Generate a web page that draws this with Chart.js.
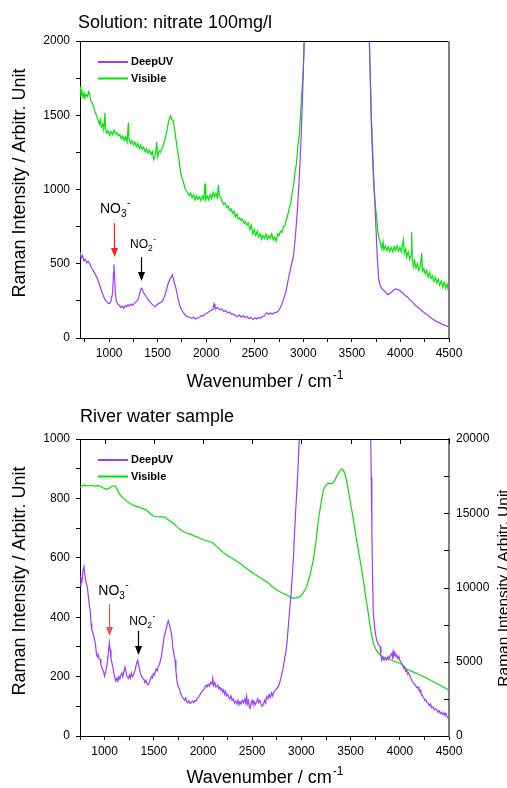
<!DOCTYPE html>
<html>
<head>
<meta charset="utf-8">
<script src="https://cdn.jsdelivr.net/npm/chart.js@4.4.1/dist/chart.umd.min.js"></script>
<style>
  body { margin: 0; background: #fff; }
  canvas { display: block; }
</style>
</head>
<body>
<canvas id="topChart" width="507" height="394"></canvas>
<canvas id="riverChart" width="507" height="394"></canvas>
<script>
// ---- data (wavenumber cm-1, intensity) ----
var seriesNames = ['DeepUV', 'Visible'];

var topDeepUV = [[700,580],[712,540],[725,555],[740,520],[755,530],[770,505],[785,515],[800,500],[820,470],[840,450],[860,425],[880,400],[900,360],[920,320],[940,285],[960,255],[975,245],[990,235],[1005,232],[1020,250],[1035,300],[1045,440],[1050,495],[1056,420],[1064,300],[1075,245],[1090,228],[1105,220],[1120,205],[1135,215],[1150,200],[1165,218],[1180,210],[1195,225],[1210,215],[1225,228],[1240,220],[1255,230],[1270,238],[1285,250],[1300,262],[1315,300],[1330,335],[1340,330],[1355,305],[1370,290],[1385,278],[1400,260],[1420,245],[1440,228],[1460,218],[1475,210],[1490,222],[1505,230],[1520,235],[1535,240],[1550,250],[1565,270],[1580,300],[1595,335],[1610,370],[1625,395],[1640,410],[1651,425],[1662,400],[1675,365],[1690,330],[1705,280],[1720,235],[1735,205],[1750,185],[1770,165],[1790,150],[1810,142],[1830,140],[1850,132],[1870,140],[1890,128],[1910,135],[1930,140],[1950,150],[1970,148],[1990,162],[2010,168],[2030,178],[2050,185],[2070,195],[2080,230],[2090,205],[2105,198],[2120,205],[2140,190],[2160,195],[2180,178],[2200,185],[2220,170],[2240,175],[2260,160],[2280,162],[2300,150],[2320,145],[2340,155],[2360,140],[2380,150],[2400,138],[2420,145],[2440,132],[2460,140],[2480,125],[2500,135],[2520,128],[2540,138],[2560,132],[2580,145],[2600,150],[2620,170],[2640,160],[2660,168],[2680,160],[2700,170],[2720,172],[2740,180],[2760,200],[2780,230],[2800,270],[2820,310],[2840,380],[2860,440],[2880,500],[2900,560],[2920,700],[2940,870],[2960,1100],[2980,1400],[3000,1800],[3020,2300],[3060,3200],[3150,5000],[3300,7000],[3400,7500],[3500,6500],[3600,4000],[3650,2800],[3680,2000],[3700,1450],[3720,1100],[3740,860],[3760,560],[3775,400],[3790,355],[3810,330],[3830,320],[3850,305],[3870,292],[3890,300],[3910,310],[3930,322],[3950,330],[3970,328],[3990,322],[4010,310],[4030,300],[4050,285],[4070,278],[4090,262],[4110,250],[4130,238],[4150,222],[4170,212],[4190,200],[4210,190],[4230,178],[4250,168],[4270,158],[4290,150],[4310,138],[4330,128],[4350,120],[4370,112],[4390,105],[4410,100],[4430,92],[4450,88],[4470,82],[4490,78],[4500,76]];

var topVisible = [[700,1693],[710,1640],[720,1660],[730,1620],[740,1650],[750,1615],[760,1640],[775,1625],[790,1660],[800,1640],[810,1600],[825,1580],[840,1560],[855,1520],[870,1500],[885,1470],[900,1440],[910,1470],[920,1420],[935,1440],[945,1400],[957,1515],[962,1420],[975,1380],[990,1395],[1005,1365],[1020,1390],[1035,1370],[1050,1400],[1065,1375],[1080,1385],[1095,1360],[1110,1370],[1125,1340],[1140,1360],[1155,1330],[1170,1355],[1185,1320],[1198,1450],[1205,1340],[1220,1310],[1235,1330],[1250,1300],[1265,1320],[1280,1290],[1295,1310],[1310,1275],[1325,1300],[1340,1270],[1355,1285],[1370,1255],[1385,1275],[1400,1245],[1415,1265],[1430,1235],[1445,1255],[1460,1200],[1475,1230],[1490,1320],[1500,1220],[1515,1260],[1530,1250],[1545,1280],[1560,1300],[1575,1340],[1590,1380],[1605,1430],[1620,1480],[1634,1495],[1645,1470],[1660,1465],[1675,1400],[1690,1330],[1705,1260],[1720,1200],[1735,1120],[1750,1080],[1765,1050],[1780,1010],[1795,990],[1810,975],[1825,960],[1840,975],[1855,945],[1870,965],[1885,930],[1900,960],[1915,935],[1930,950],[1945,925],[1960,955],[1975,935],[1988,1040],[1995,930],[2010,955],[2025,930],[2040,965],[2055,940],[2070,980],[2085,950],[2100,975],[2115,945],[2125,1030],[2135,960],[2150,940],[2165,920],[2180,900],[2195,910],[2210,880],[2225,890],[2240,860],[2255,870],[2270,840],[2285,855],[2300,815],[2315,835],[2330,800],[2345,810],[2360,790],[2375,800],[2390,770],[2405,785],[2420,760],[2435,775],[2450,730],[2465,760],[2480,700],[2495,730],[2510,690],[2525,720],[2540,680],[2555,700],[2570,665],[2585,690],[2600,670],[2615,700],[2630,665],[2645,690],[2660,670],[2675,700],[2690,660],[2705,680],[2720,650],[2735,700],[2750,690],[2765,720],[2780,710],[2795,750],[2810,760],[2825,800],[2840,830],[2855,880],[2870,900],[2885,980],[2900,1030],[2915,1120],[2930,1180],[2945,1300],[2960,1380],[2975,1550],[2990,1700],[3005,1900],[3020,2200],[3100,3500],[3200,6000],[3400,8000],[3550,6000],[3640,3000],[3680,2000],[3700,1500],[3714,1266],[3730,1000],[3745,870],[3755,817],[3770,700],[3785,660],[3800,620],[3810,600],[3820,650],[3830,595],[3845,620],[3860,590],[3875,615],[3890,585],[3905,610],[3920,580],[3935,615],[3950,590],[3965,620],[3980,585],[3995,610],[4010,580],[4029,660],[4040,570],[4055,600],[4064,545],[4080,580],[4095,530],[4110,560],[4116,716],[4122,540],[4133,480],[4145,520],[4160,470],[4175,500],[4190,455],[4205,485],[4219,570],[4226,450],[4240,470],[4255,430],[4270,455],[4285,410],[4300,440],[4315,400],[4330,420],[4345,380],[4360,410],[4375,370],[4390,395],[4405,355],[4420,385],[4435,345],[4450,375],[4465,335],[4480,365],[4490,330],[4500,360]];

var riverDeepUV = [[750,508],[760,530],[770,520],[780,555],[790,570],[800,540],[812,515],[824,503],[835,470],[845,440],[855,420],[862,380],[870,357],[880,350],[890,335],[900,323],[910,300],[918,275],[926,267],[935,275],[945,260],[955,258],[962,240],[970,233],[980,225],[990,215],[1000,202],[1010,215],[1020,230],[1030,255],[1040,290],[1048,314],[1056,290],[1065,260],[1075,245],[1085,230],[1095,210],[1105,195],[1115,185],[1125,195],[1135,185],[1145,200],[1155,192],[1165,205],[1175,212],[1185,200],[1195,215],[1207,232],[1218,215],[1228,200],[1241,194],[1252,205],[1262,195],[1272,212],[1282,200],[1292,205],[1302,215],[1312,225],[1322,240],[1330,250],[1336,258],[1345,240],[1355,225],[1365,210],[1377,200],[1388,195],[1400,190],[1410,180],[1420,188],[1432,175],[1444,172],[1455,180],[1465,190],[1475,200],[1485,195],[1495,210],[1505,205],[1515,215],[1525,225],[1535,220],[1545,235],[1555,240],[1565,250],[1580,275],[1595,310],[1605,335],[1614,346],[1625,360],[1635,375],[1647,388],[1658,375],[1670,360],[1682,340],[1692,300],[1702,280],[1716,256],[1725,220],[1735,185],[1749,166],[1760,160],[1770,145],[1780,140],[1790,130],[1800,127],[1812,120],[1825,128],[1835,115],[1845,112],[1855,118],[1868,110],[1880,112],[1892,118],[1905,112],[1918,120],[1930,118],[1942,128],[1955,130],[1968,138],[1980,145],[1992,150],[2004,155],[2015,160],[2028,170],[2040,165],[2052,175],[2065,168],[2078,180],[2090,175],[2099,194],[2108,170],[2120,180],[2130,165],[2139,166],[2150,172],[2160,160],[2170,165],[2180,155],[2190,160],[2200,148],[2210,155],[2220,140],[2230,150],[2240,135],[2252,140],[2265,128],[2274,127],[2285,135],[2295,120],[2308,125],[2320,112],[2332,118],[2345,108],[2355,120],[2365,105],[2376,116],[2388,108],[2400,120],[2412,112],[2425,125],[2435,110],[2444,133],[2452,108],[2462,118],[2470,100],[2478,93],[2488,110],[2498,120],[2508,108],[2520,115],[2530,105],[2546,116],[2556,125],[2566,112],[2578,120],[2590,108],[2600,100],[2613,105],[2625,120],[2636,110],[2647,133],[2660,125],[2672,140],[2685,130],[2697,145],[2708,135],[2715,144],[2728,150],[2740,155],[2750,160],[2766,166],[2780,180],[2795,200],[2805,215],[2817,233],[2830,262],[2840,280],[2850,301],[2860,340],[2872,390],[2884,435],[2895,480],[2905,530],[2918,593],[2930,680],[2942,760],[2952,817],[2965,900],[2978,1000],[3000,1250],[3100,2500],[3300,4000],[3500,3500],[3650,2000],[3690,1200],[3704,1000],[3710,870],[3716,700],[3722,560],[3731,413],[3742,375],[3752,345],[3765,323],[3780,310],[3799,301],[3808,275],[3816,256],[3828,265],[3840,255],[3852,262],[3867,256],[3880,268],[3892,260],[3905,272],[3918,278],[3925,265],[3932,285],[3940,270],[3950,280],[3960,268],[3969,273],[3980,260],[3990,268],[4000,255],[4010,250],[4019,245],[4030,238],[4040,228],[4050,232],[4060,218],[4070,222],[4080,208],[4090,212],[4104,200],[4115,192],[4125,185],[4135,180],[4145,175],[4155,172],[4165,168],[4175,162],[4185,165],[4195,155],[4206,155],[4215,145],[4225,140],[4235,132],[4245,128],[4255,120],[4265,122],[4278,112],[4290,110],[4300,102],[4312,108],[4325,95],[4338,98],[4350,88],[4362,92],[4375,88],[4388,80],[4400,85],[4412,75],[4425,80],[4438,72],[4450,78],[4459,71],[4470,75],[4480,65],[4493,60],[4500,55]];

// river Visible is plotted against the right axis (0-20000)
var riverVisible = [[750,16748],[784,16902],[820,16850],[860,16870],[900,16830],[930,16860],[953,16835],[985,16700],[1021,16612],[1050,16700],[1080,16850],[1106,16835],[1130,16600],[1150,16300],[1174,16116],[1200,15950],[1230,15800],[1260,15650],[1290,15550],[1320,15450],[1343,15442],[1370,15350],[1400,15280],[1428,15219],[1460,15000],[1495,14815],[1530,14780],[1560,14760],[1590,14760],[1614,14726],[1650,14550],[1698,14322],[1740,14050],[1790,13800],[1834,13650],[1870,13600],[1910,13480],[1940,13420],[1970,13313],[2010,13200],[2060,13100],[2105,12976],[2140,12750],[2180,12500],[2241,12188],[2300,11950],[2376,11629],[2440,11300],[2511,10956],[2580,10650],[2647,10391],[2700,10080],[2749,9832],[2800,9650],[2850,9495],[2890,9350],[2918,9273],[2950,9300],[2986,9381],[3020,9650],[3053,10054],[3090,10900],[3121,11852],[3150,13200],[3172,14545],[3200,15700],[3223,16566],[3250,16900],[3273,17017],[3300,17000],[3324,17057],[3345,17300],[3365,17560],[3385,17800],[3409,17980],[3425,17900],[3443,17690],[3465,17000],[3494,15892],[3530,14500],[3561,13199],[3595,11900],[3629,10505],[3655,9300],[3680,8263],[3705,7100],[3731,6243],[3760,5800],[3799,5455],[3830,5330],[3867,5232],[3930,5070],[4002,4896],[4040,4680],[4070,4492],[4140,4300],[4206,4108],[4270,3900],[4341,3657],[4420,3380],[4500,3080]];

// peak markers: [label, subscript, text x, text baseline y, arrow x, arrow from y, arrow to y]
var topMarks = [['NO', '3', 906, 842, 1050, 774, 545], ['NO', '2', 1215, 606, 1331, 545, 384]];
var riverMarks = [['NO', '3', 936, 475, 1041, 444, 337], ['NO', '2', 1251, 374, 1336, 354, 273]];

var FONT = '"Liberation Sans", Arial, sans-serif';
var UV_COLOR = '#9b3cff';
var VIS_COLOR = '#00e400';

function toXY(arr) {
  return arr.map(function (p) { return { x: p[0], y: p[1] }; });
}

function lineSet(label, arr, color, axis) {
  return {
    label: label, data: toXY(arr), borderColor: color, backgroundColor: color,
    borderWidth: 1.2, pointRadius: 0, tension: 0, fill: false, yAxisID: axis || 'y'
  };
}

// put a tick on every multiple of step between min and max
function stepTicks(step) {
  return function (scale) {
    var list = [];
    for (var v = Math.ceil(scale.min / step) * step; v <= scale.max; v += step) list.push({ value: v });
    scale.ticks = list;
  };
}

function xAxis(min, max, h) {
  return {
    type: 'linear', position: 'bottom', min: min, max: max,
    afterFit: function (s) { s.height = h; },
    afterBuildTicks: stepTicks(250),
    ticks: {
      autoSkip: false, maxRotation: 0, padding: 4, color: '#000',
      font: { family: FONT, size: 12 },
      callback: function (v) { return v % 500 === 0 ? String(v) : ''; }
    },
    grid: { drawOnChartArea: false, tickLength: 4, color: '#000', tickColor: '#000' },
    border: { color: '#000', width: 1 }
  };
}

function yAxis(max, step, major, pos, w, inward) {
  return {
    type: 'linear', position: pos, min: 0, max: max,
    afterFit: function (s) { s.width = w; },
    afterBuildTicks: stepTicks(step),
    ticks: {
      autoSkip: false, padding: inward ? 7 : 6, color: '#000',
      font: { family: FONT, size: 12 },
      callback: function (v) { return v % major === 0 ? String(v) : ''; }
    },
    grid: { drawOnChartArea: false, drawTicks: !inward, tickLength: 4, color: '#000', tickColor: '#000' },
    border: { color: inward ? '#7f7f7f' : '#000', width: inward ? 2 : 1 }
  };
}

function drawLine(ctx, x1, y1, x2, y2) {
  ctx.beginPath(); ctx.moveTo(x1, y1); ctx.lineTo(x2, y2); ctx.stroke();
}

var decor = {
  id: 'decor',
  afterDraw: function (chart, args, o) {
    var ctx = chart.ctx, a = chart.chartArea, xs = chart.scales.x, ys = chart.scales.y;
    ctx.save();
    ctx.strokeStyle = '#000'; ctx.lineWidth = 1;
    drawLine(ctx, a.left, a.top + 0.5, a.right, a.top + 0.5);
    if (!chart.scales.y2) {
      ctx.strokeStyle = '#7f7f7f'; ctx.lineWidth = 2;
      drawLine(ctx, a.right, a.top, a.right, a.bottom);
    }
    ctx.strokeStyle = '#000'; ctx.lineWidth = 1;
    if (o.topTicks) {
      xs.ticks.forEach(function (t) {
        if (t.value % 500 === 0) {
          var px = Math.round(xs.getPixelForValue(t.value)) + 0.5;
          drawLine(ctx, px, a.top, px, a.top + 5);
        }
      });
    }
    if (chart.scales.y2) {
      var y2 = chart.scales.y2;
      y2.ticks.forEach(function (t) {
        var py = Math.round(y2.getPixelForValue(t.value)) + 0.5;
        drawLine(ctx, a.right - 5, py, a.right, py);
      });
    }
    ctx.fillStyle = '#000';
    ctx.textAlign = 'left'; ctx.textBaseline = 'alphabetic';
    // chart title
    ctx.font = '18px ' + FONT;
    ctx.fillText(o.title, o.titleX, o.titleY);
    // x axis title with superscript
    var main = 'Wavenumber / cm', sup = '-1';
    ctx.font = '18px ' + FONT;
    var w1 = ctx.measureText(main).width;
    ctx.font = '12px ' + FONT;
    var w2 = ctx.measureText(sup).width;
    var sx = (a.left + a.right) / 2 - (w1 + w2) / 2;
    ctx.font = '18px ' + FONT;
    ctx.fillText(main, sx, o.xTitleY);
    ctx.font = '12px ' + FONT;
    ctx.fillText(sup, sx + w1 + 1, o.xTitleY - 8);
    // y axis titles
    var yTitle = 'Raman Intensity / Arbitr. Unit';
    ctx.textAlign = 'center';
    ctx.save();
    ctx.translate(25, o.yTitleY); ctx.rotate(-Math.PI / 2);
    ctx.font = '18px ' + FONT; ctx.fillText(yTitle, 0, 0);
    ctx.restore();
    if (chart.scales.y2) {
      ctx.save();
      ctx.translate(508, o.y2TitleY); ctx.rotate(-Math.PI / 2);
      ctx.font = '15.5px ' + FONT; ctx.fillText(yTitle, 0, 0);
      ctx.restore();
    }
    // legend
    ctx.textAlign = 'left'; ctx.textBaseline = 'middle';
    ctx.font = 'bold 11px ' + FONT;
    chart.data.datasets.forEach(function (ds, i) {
      var ly = a.top + 21 + i * 16.5;
      ctx.strokeStyle = ds.borderColor; ctx.lineWidth = 2;
      drawLine(ctx, 98, ly, 128, ly);
      ctx.fillStyle = '#000';
      ctx.fillText(ds.label, 131, ly);
    });
    // peak markers
    ctx.textBaseline = 'alphabetic';
    o.marks.forEach(function (m, i) {
      var big = i === 0 ? 14 : 12, small = i === 0 ? 10 : 8.5;
      var tx = xs.getPixelForValue(m[2]), ty = ys.getPixelForValue(m[3]);
      ctx.fillStyle = '#000';
      ctx.font = big + 'px ' + FONT;
      ctx.fillText(m[0], tx, ty);
      var nw = ctx.measureText(m[0]).width;
      ctx.font = small + 'px ' + FONT;
      ctx.fillText(m[1], tx + nw, ty + big * 0.28);
      var sw = ctx.measureText(m[1]).width;
      ctx.fillText('-', tx + nw + sw + 0.5, ty - big * 0.5);
      var col = i === 0 ? o.arrowRed : '#000';
      var ax = Math.round(xs.getPixelForValue(m[4])) + 0.5;
      var ay1 = ys.getPixelForValue(m[5]), ay2 = ys.getPixelForValue(m[6]);
      ctx.strokeStyle = col; ctx.fillStyle = col; ctx.lineWidth = 1.2;
      drawLine(ctx, ax, ay1, ax, ay2 - 8);
      ctx.beginPath();
      ctx.moveTo(ax - 3.5, ay2 - 9); ctx.lineTo(ax + 3.5, ay2 - 9); ctx.lineTo(ax, ay2); ctx.closePath();
      ctx.fill();
    });
    ctx.restore();
  }
};

new Chart(document.getElementById('topChart'), {
  type: 'line',
  data: {
    datasets: [
      lineSet(seriesNames[0], topDeepUV, UV_COLOR),
      lineSet(seriesNames[1], topVisible, VIS_COLOR)
    ]
  },
  options: {
    responsive: false, animation: false, events: [],
    layout: { padding: { top: 41, right: 58, left: 0, bottom: 0 } },
    scales: {
      x: xAxis(700, 4500, 56),
      y: yAxis(2000, 250, 500, 'left', 80, false)
    },
    plugins: {
      legend: { display: false }, tooltip: { enabled: false },
      decor: {
        title: 'Solution: nitrate 100mg/l', titleX: 78, titleY: 28,
        xTitleY: 387, yTitleY: 183, topTicks: false,
        marks: topMarks, arrowRed: '#ff2020'
      }
    }
  },
  plugins: [decor]
});

new Chart(document.getElementById('riverChart'), {
  type: 'line',
  data: {
    datasets: [
      lineSet(seriesNames[0], riverDeepUV, UV_COLOR),
      lineSet(seriesNames[1], riverVisible, VIS_COLOR, 'y2')
    ]
  },
  options: {
    responsive: false, animation: false, events: [],
    layout: { padding: { top: 45, right: 0, left: 0, bottom: 0 } },
    scales: {
      x: xAxis(750, 4500, 52),
      y: yAxis(1000, 100, 200, 'left', 80, false),
      y2: yAxis(20000, 2500, 5000, 'right', 58, true)
    },
    plugins: {
      legend: { display: false }, tooltip: { enabled: false },
      decor: {
        title: 'River water sample', titleX: 80, titleY: 28,
        xTitleY: 389, yTitleY: 187, y2TitleY: 194, topTicks: true,
        marks: riverMarks, arrowRed: '#f25050'
      }
    }
  },
  plugins: [decor]
});
</script>
</body>
</html>
